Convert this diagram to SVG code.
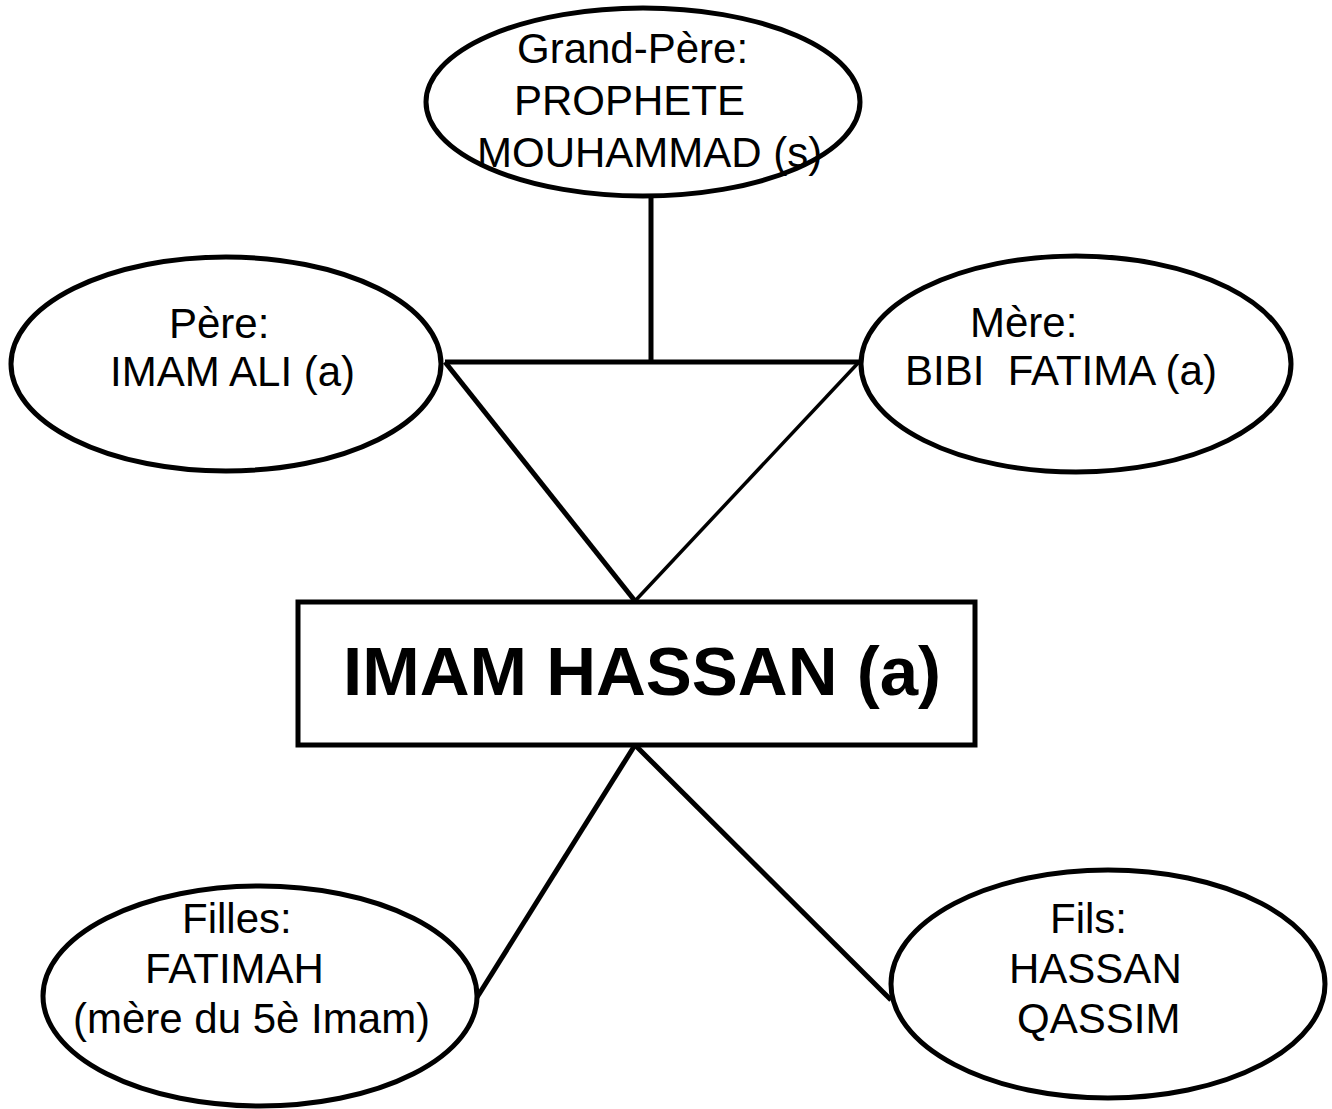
<svg xmlns="http://www.w3.org/2000/svg" width="1332" height="1109" viewBox="0 0 1332 1109">
<style>
.shape{fill:#fff;stroke:#000;stroke-width:5}
.lbl{font-family:"Liberation Sans",Arial,sans-serif;font-size:42px;fill:#000;white-space:pre}
.title{font-family:"Liberation Sans",Arial,sans-serif;font-size:69px;font-weight:bold;fill:#000}
.conn line{stroke:#000;stroke-width:5;stroke-linecap:butt}
</style>
<rect width="1332" height="1109" fill="#fff"/>
<g id="connectors" class="conn">
<line x1="651" y1="196" x2="651" y2="362"/>
<line x1="445" y1="362" x2="860" y2="362"/>
<line x1="445" y1="362" x2="635" y2="601"/>
<line x1="859" y1="362" x2="635" y2="601" style="stroke-width:3.5"/>
<line x1="635" y1="745" x2="476" y2="999"/>
<line x1="635" y1="745" x2="891" y2="1000"/>
</g>
<g id="grandpere">
<ellipse class="shape" cx="643" cy="102" rx="217" ry="94"/>
<text class="lbl" x="517" y="63">Grand-Père:</text>
<text class="lbl" x="514" y="115">PROPHETE</text>
<text class="lbl" x="477" y="167">MOUHAMMAD (s)</text>
</g>
<g id="pere">
<ellipse class="shape" cx="226" cy="364" rx="215" ry="107"/>
<text class="lbl" x="169" y="338">Père:</text>
<text class="lbl" x="110" y="386">IMAM ALI (a)</text>
</g>
<g id="mere">
<ellipse class="shape" cx="1076" cy="364" rx="215" ry="108"/>
<text class="lbl" x="970" y="337">Mère:</text>
<text class="lbl" x="905" y="385">BIBI  FATIMA (a)</text>
</g>
<g id="imam-hassan">
<rect class="shape" x="298" y="602" width="677" height="143"/>
<text class="title" x="343" y="695">IMAM HASSAN (a)</text>
</g>
<g id="filles">
<ellipse class="shape" cx="260" cy="996" rx="217" ry="110"/>
<text class="lbl" x="182" y="933">Filles:</text>
<text class="lbl" x="145" y="983">FATIMAH</text>
<text class="lbl" x="73" y="1033">(mère du 5è Imam)</text>
</g>
<g id="fils">
<ellipse class="shape" cx="1108" cy="984" rx="217" ry="114"/>
<text class="lbl" x="1050" y="933">Fils:</text>
<text class="lbl" x="1009" y="983">HASSAN</text>
<text class="lbl" x="1017" y="1033">QASSIM</text>
</g>
</svg>
